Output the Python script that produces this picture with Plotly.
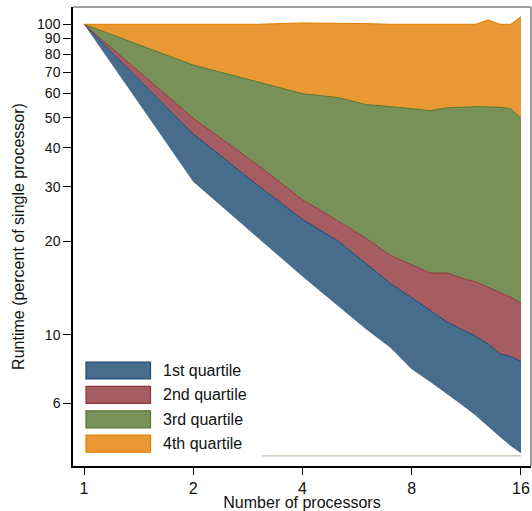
import plotly.graph_objects as go

processors = list(range(1, 17))
rt_min = [100, 31.1, 20.6, 15.4, 12.4, 10.4, 9.06, 7.74, 7.04, 6.46, 5.94, 5.49, 5.04, 4.68, 4.38, 4.15]
rt_q1 = [100, 44.3, 30.4, 23.5, 20.1, 16.9, 14.6, 13.15, 12.0, 11.0, 10.4, 9.9, 9.33, 8.67, 8.5, 8.19]
rt_median = [100, 49.8, 35.3, 27.2, 23.3, 20.4, 18.0, 16.8, 15.8, 15.8, 15.2, 14.8, 14.2, 13.7, 13.2, 12.65]
rt_q3 = [100, 73.9, 65.3, 59.8, 58.1, 55.1, 54.3, 53.4, 52.7, 53.8, 54.2, 54.3, 54.2, 54.0, 53.5, 49.8]
rt_max = [100, 100, 100, 101, 101, 100.5, 100, 100, 100, 100, 100, 100, 103.3, 100, 100, 105.8]
base_level = [4.07] * 16

series_names = ["1st quartile", "2nd quartile", "3rd quartile", "4th quartile"]
fill_colors = ["#486C8C", "#A65D62", "#779159", "#E99833"]
line_colors = ["#1A476F", "#90353B", "#55752F", "#E37E00"]

x_ticks = [1, 2, 4, 8, 16]
y_ticks = [6, 10, 20, 30, 40, 50, 60, 70, 80, 90, 100]

fig = go.Figure()

fig.add_trace(go.Scatter(x=processors, y=base_level, mode="lines",
                         line=dict(color="#CBBFAE", width=1.2), showlegend=False, hoverinfo="skip"))
fig.add_trace(go.Scatter(x=processors, y=rt_min, mode="lines",
                         line=dict(width=0, color="rgba(0,0,0,0)"), showlegend=False, hoverinfo="skip"))
for vals, name, fc, lc in zip([rt_q1, rt_median, rt_q3, rt_max], series_names, fill_colors, line_colors):
    fig.add_trace(go.Scatter(x=processors, y=vals, mode="lines", name=name,
                             fill="tonexty", fillcolor=fc,
                             line=dict(color=lc, width=1), showlegend=False, hoverinfo="skip"))

# plot area pixel geometry helpers for legend placement
L, R, T, B = 73, 1, 7, 45
W, H = 532, 511
pw, ph = W - L - R, H - T - B

def px_x(p):
    return (p - L) / pw

def px_y(p):
    return (H - B - p) / ph

shapes = []
annotations = []
# white box behind legend
shapes.append(dict(type="rect", xref="paper", yref="paper",
                   x0=px_x(74), x1=px_x(262), y0=px_y(462), y1=px_y(352),
                   fillcolor="white", line=dict(width=0), layer="above"))
for i, (name, fc, lc) in enumerate(zip(series_names, fill_colors, line_colors)):
    top = 362 + 24.4 * i
    shapes.append(dict(type="rect", xref="paper", yref="paper",
                       x0=px_x(86), x1=px_x(150.5), y0=px_y(top + 17), y1=px_y(top),
                       fillcolor=fc, line=dict(color=lc, width=1.2), layer="above"))
    annotations.append(dict(text=name, xref="paper", yref="paper",
                            x=px_x(161), y=px_y(top + 8.5), xanchor="left", yanchor="middle",
                            showarrow=False, font=dict(size=16, color="#111")))
# top and right frame lines (gray)
shapes.append(dict(type="line", xref="paper", yref="paper", x0=0, x1=1, y0=1, y1=1,
                   line=dict(color="#808080", width=1.5), layer="above"))
shapes.append(dict(type="line", xref="paper", yref="paper", x0=1, x1=1, y0=0, y1=1,
                   line=dict(color="#808080", width=1.5), layer="above"))

fig.update_layout(
    width=W, height=H,
    margin=dict(l=L, r=R, t=T, b=B),
    paper_bgcolor="white", plot_bgcolor="white",
    font=dict(family="Liberation Sans, Arial, sans-serif", size=16, color="#111"),
    showlegend=False,
    shapes=shapes, annotations=annotations,
    xaxis=dict(type="log", range=[-0.0303, 1.2317], tickvals=x_ticks, ticktext=[str(v) for v in x_ticks],
               showgrid=False, zeroline=False, showline=True, linecolor="black", linewidth=1.5,
               ticks="outside", ticklen=7, tickcolor="black",
               title=dict(text="Number of processors", font=dict(size=16), standoff=3)),
    yaxis=dict(type="log", range=[0.577, 2.0557], tickvals=y_ticks, ticktext=[str(v) for v in y_ticks],
               tickfont=dict(size=14),
               showgrid=False, zeroline=False, showline=True, linecolor="black", linewidth=1.5,
               ticks="outside", ticklen=8, tickcolor="black",
               title=dict(text="Runtime (percent of single processor)", font=dict(size=16), standoff=8)),
)

fig.write_html("out.html", config={"displayModeBar": False},
               post_script="document.body.style.margin='0';document.body.style.overflow='hidden';")
